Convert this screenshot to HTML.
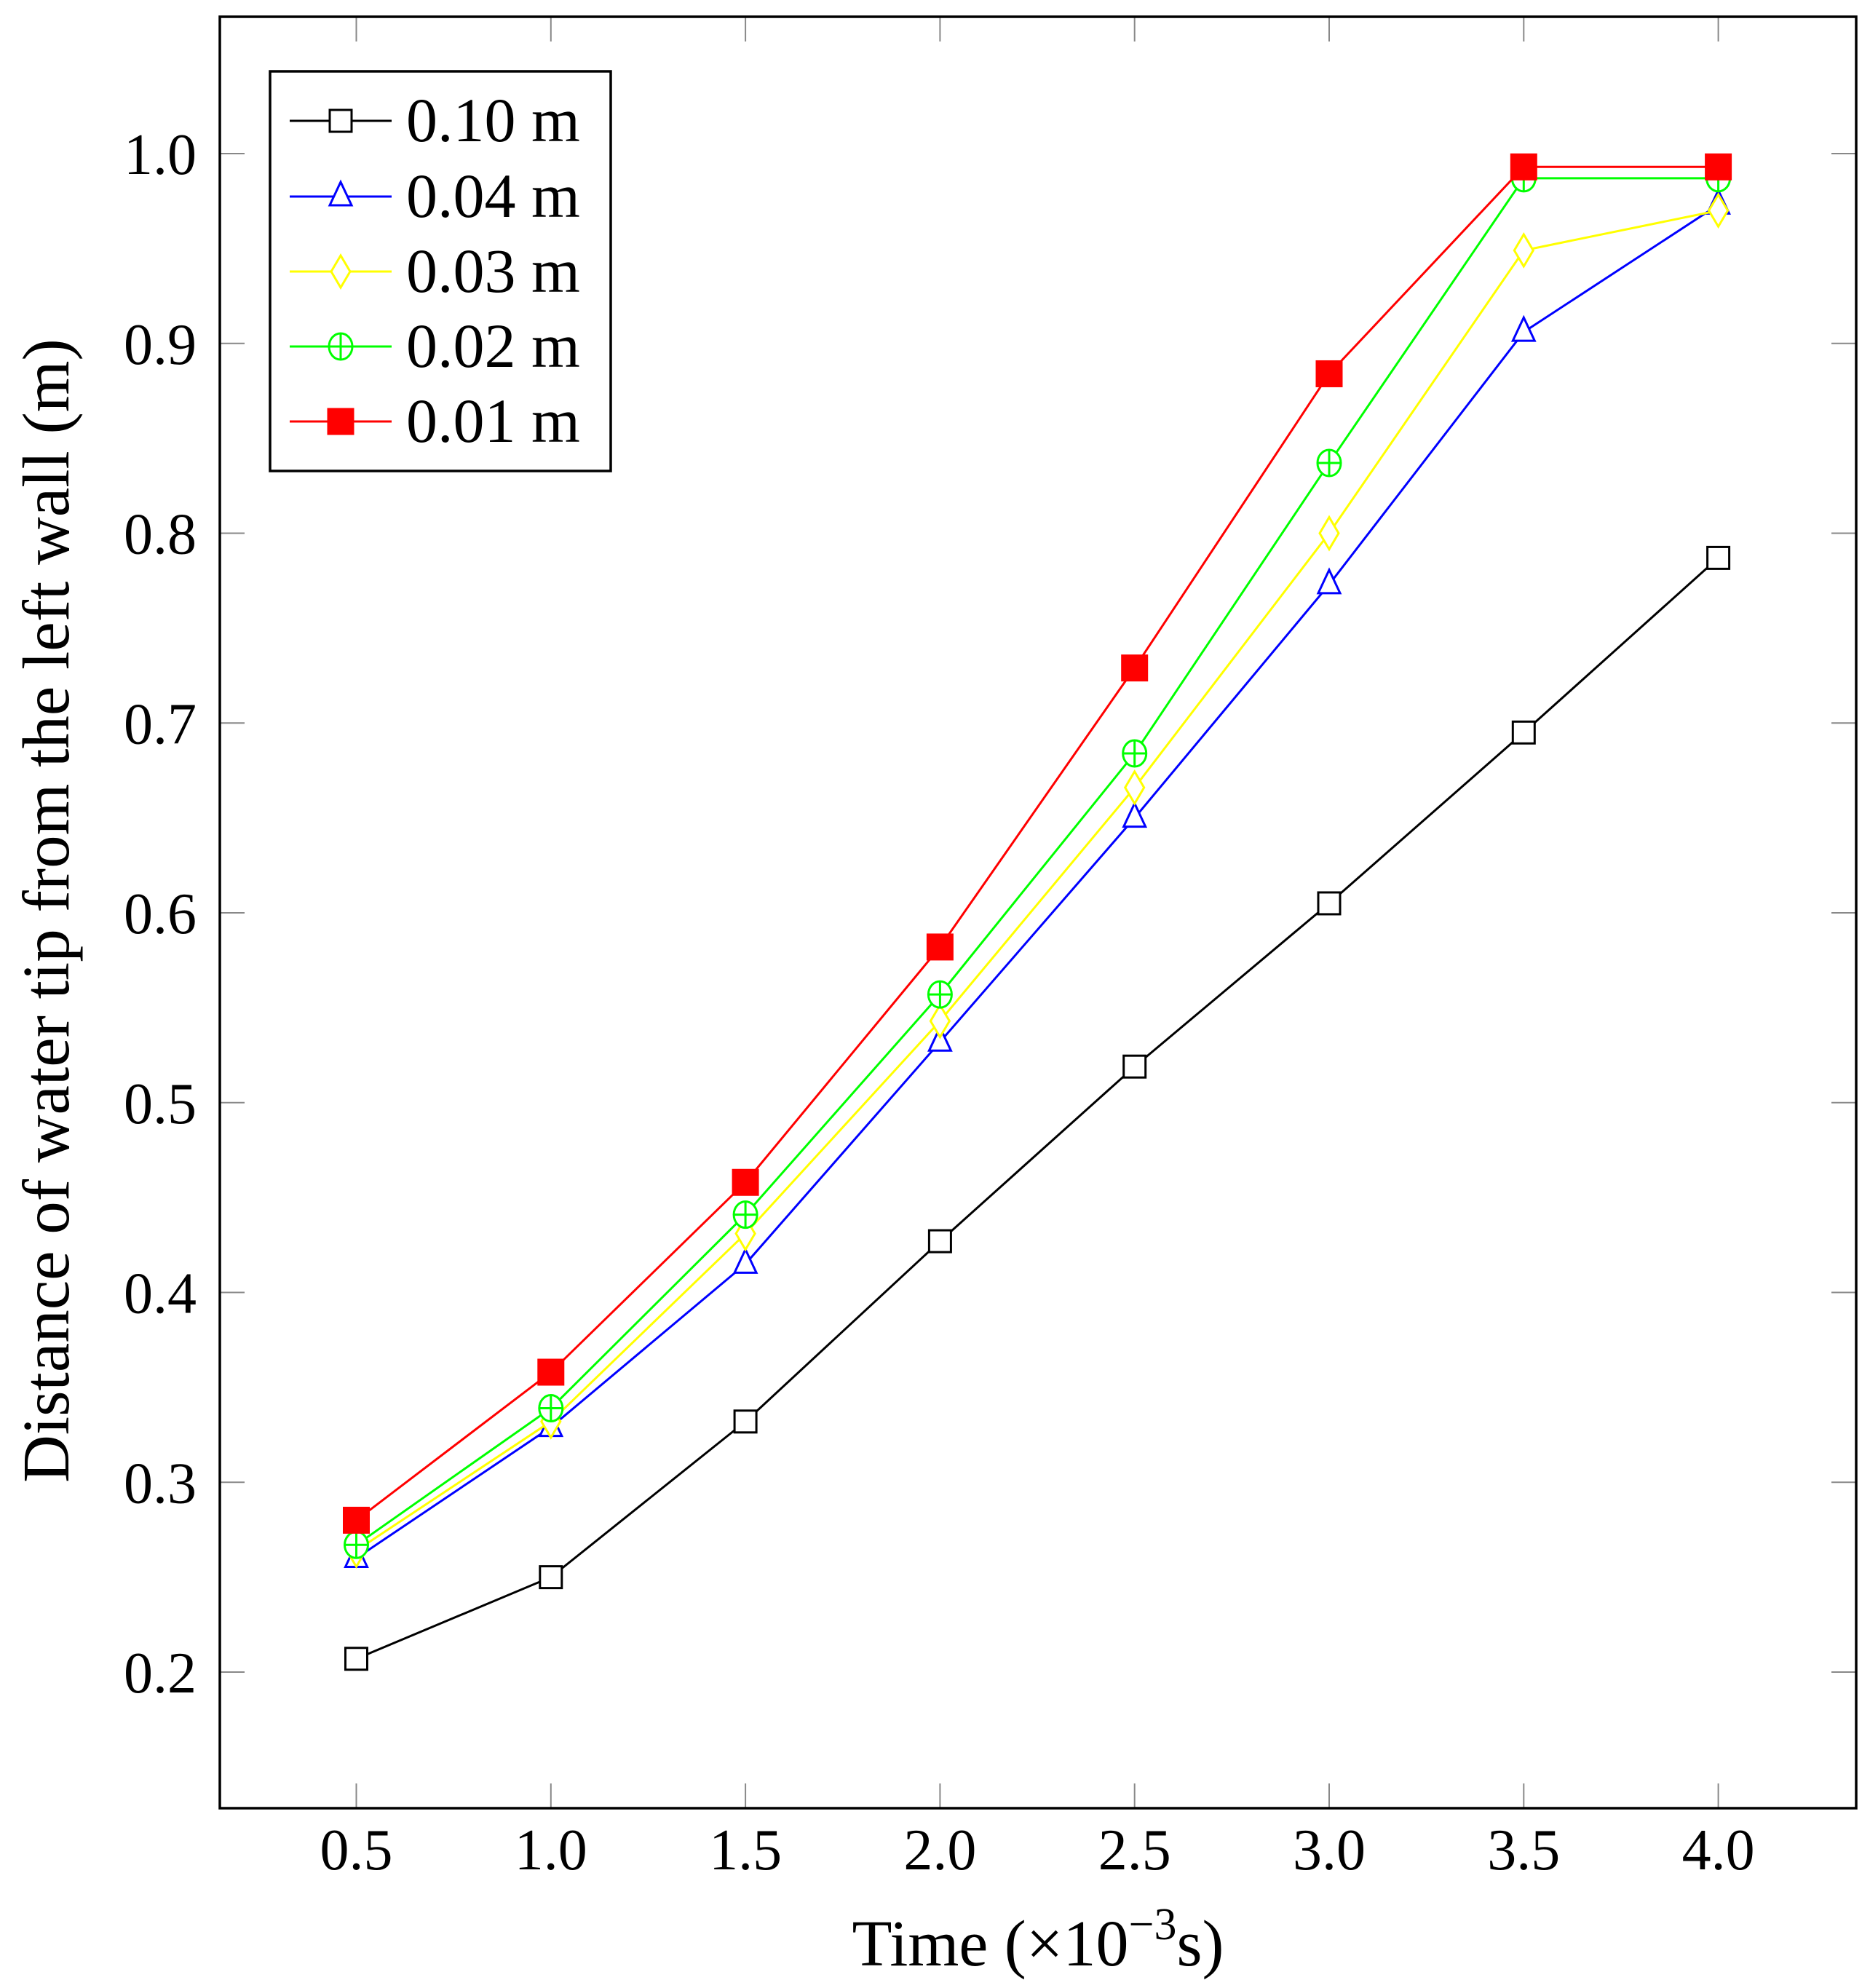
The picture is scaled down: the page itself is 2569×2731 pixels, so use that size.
<!DOCTYPE html>
<html><head><meta charset="utf-8"><style>
html,body{margin:0;padding:0;background:#fff;}
svg{display:block;font-family:"Liberation Serif",serif;}
</style></head><body>
<svg id="chart" width="2569" height="2731" viewBox="0 0 2569 2731" xmlns="http://www.w3.org/2000/svg">
<g id="ticks"></g>
<g id="series"></g>
<rect x="302" y="23" width="2248" height="2461" fill="none" stroke="#000" stroke-width="3.5"/>
<g id="labels" font-size="80" fill="#000"></g>
<text x="1426" y="2700" font-size="90" text-anchor="middle">Time (×10<tspan dy="-36" font-size="62">−3</tspan><tspan dy="36">s)</tspan></text>
<text transform="translate(94,1251) rotate(-90)" font-size="91" text-anchor="middle">Distance of water tip from the left wall (m)</text>
<g id="legend"></g>
</svg>
<script>
const xTicks=[0.5,1.0,1.5,2.0,2.5,3.0,3.5,4.0];
const xTickLabels=["0.5","1.0","1.5","2.0","2.5","3.0","3.5","4.0"];
const yTicks=[0.2,0.3,0.4,0.5,0.6,0.7,0.8,0.9,1.0];
const yTickLabels=["0.2","0.3","0.4","0.5","0.6","0.7","0.8","0.9","1.0"];
const times=[0.5,1.0,1.5,2.0,2.5,3.0,3.5,4.0];
const s010=[0.207,0.25,0.332,0.427,0.519,0.605,0.695,0.787];
const s004=[0.26,0.329,0.415,0.532,0.65,0.773,0.906,0.973];
const s003=[0.264,0.332,0.431,0.543,0.666,0.8,0.949,0.97];
const s002=[0.267,0.339,0.441,0.557,0.684,0.837,0.987,0.987];
const s001=[0.28,0.358,0.458,0.582,0.729,0.884,0.993,0.993];
const seriesNames=["0.10 m","0.04 m","0.03 m","0.02 m","0.01 m"];

const NS="http://www.w3.org/2000/svg";
function X(v){return 489.5+(v-0.5)*534.6;}
function Y(v){return 211+(1-v)*2607.5;}
function mk(tag,attrs,parent){const e=document.createElementNS(NS,tag);for(const k in attrs)e.setAttribute(k,attrs[k]);parent.appendChild(e);return e;}
const ticks=document.getElementById('ticks'),labels=document.getElementById('labels'),sg=document.getElementById('series'),lg=document.getElementById('legend');
xTicks.forEach((v,i)=>{
  let t=mk('line',{x1:X(v),x2:X(v),y1:2484,y2:2450,stroke:'#888','stroke-width':2},ticks);
  
  
  t=mk('line',{x1:X(v),x2:X(v),y1:23,y2:57,stroke:'#888','stroke-width':2},ticks);
  
  
  const l=mk('text',{x:X(v),y:2568,'text-anchor':'middle'},labels);l.textContent=xTickLabels[i];
  
  
});
yTicks.forEach((v,i)=>{
  let t=mk('line',{x1:302,x2:336,y1:Y(v),y2:Y(v),stroke:'#888','stroke-width':2},ticks);
  
  
  t=mk('line',{x1:2516,x2:2550,y1:Y(v),y2:Y(v),stroke:'#888','stroke-width':2},ticks);
  
  
  const l=mk('text',{x:270,y:Y(v)+28,'text-anchor':'end'},labels);l.textContent=yTickLabels[i];
  
  
});
function marker(type,color,cx,cy,p){
  let e;
  if(type==='square'){e=mk('rect',{x:cx-15,y:cy-15,width:30,height:30,fill:'#fff',stroke:color,'stroke-width':3},p);}
  else if(type==='tri'){e=mk('polygon',{points:`${cx},${cy-20} ${cx-15},${cy+12} ${cx+15},${cy+12}`,fill:'#fff',stroke:color,'stroke-width':3},p);}
  else if(type==='diamond'){e=mk('polygon',{points:`${cx},${cy-22} ${cx-13},${cy} ${cx},${cy+22} ${cx+13},${cy}`,fill:'#fff',stroke:color,'stroke-width':3},p);}
  else if(type==='oplus'){e=mk('g',{},p);mk('ellipse',{cx:cx,cy:cy,rx:16,ry:18,fill:'#fff',stroke:color,'stroke-width':3},e);mk('line',{x1:cx-16,x2:cx+16,y1:cy,y2:cy,stroke:color,'stroke-width':3},e);mk('line',{x1:cx,x2:cx,y1:cy-18,y2:cy+18,stroke:color,'stroke-width':3},e);}
  else {e=mk('rect',{x:cx-18,y:cy-18,width:36,height:36,fill:color,stroke:color,'stroke-width':1},p);}
  return e;
}
const seriesData=[s010,s004,s003,s002,s001];
const colors=['#000','#00f','#ff0','#0f0','#f00'];
const types=['square','tri','diamond','oplus','fill'];
seriesData.forEach((d,si)=>{
  const g=mk('g',{},sg);
  
  
  const pl=mk('polyline',{points:d.map((v,i)=>X(times[i])+','+Y(v)).join(' '),fill:'none',stroke:colors[si],'stroke-width':3},g);
  
  
  d.forEach((v,i)=>{const m=marker(types[si],colors[si],X(times[i]),Y(v),g);
    
    });
});
const box=mk('rect',{x:371,y:98,width:468,height:549,fill:'#fff',stroke:'#000','stroke-width':3.5},lg);


const rows=[166,270,373,476,579];
seriesNames.forEach((n,i)=>{
  const g=mk('g',{},lg);
  
  
  mk('line',{x1:398,x2:538,y1:rows[i],y2:rows[i],stroke:colors[i],'stroke-width':3},g);
  marker(types[i],colors[i],468,rows[i],g);
  const t=mk('text',{x:558,y:rows[i]+28,'font-size':86},g);t.textContent=n;
});
</script>
</body></html>
